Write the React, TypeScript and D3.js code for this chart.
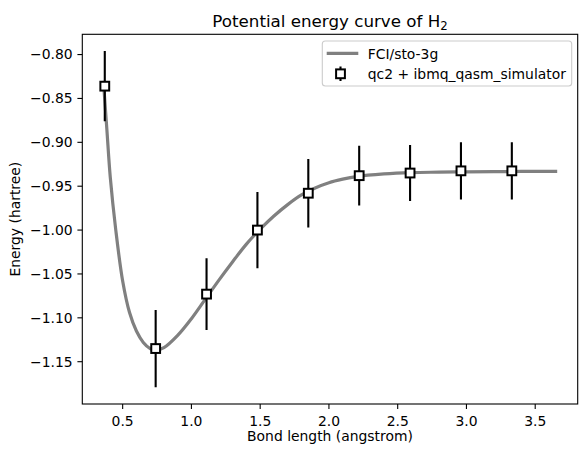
import React from "react";
import * as d3 from "d3";

// FCI/sto-3g reference curve
const fciBond = [0.36, 0.385, 0.41, 0.45, 0.5, 0.55, 0.6, 0.65, 0.7, 0.74, 0.8, 0.9, 1.0, 1.1, 1.2, 1.3, 1.4, 1.5, 1.6, 1.7, 1.8, 1.9, 2.0, 2.1, 2.2, 2.4, 2.6, 2.8, 3.0, 3.2, 3.4, 3.66];
const fciEnergy = [-0.83, -0.885, -0.94, -1.0, -1.058, -1.094, -1.115, -1.128, -1.135, -1.137, -1.134, -1.12, -1.101, -1.079, -1.057, -1.036, -1.016, -0.999, -0.984, -0.971, -0.96, -0.952, -0.946, -0.942, -0.939, -0.936, -0.9345, -0.934, -0.9336, -0.9334, -0.9332, -0.9331];

// simulator points with error bars
const qcBond = [0.37, 0.74, 1.11, 1.48, 1.85, 2.22, 2.59, 2.96, 3.33];
const qcEnergy = [-0.836, -1.135, -1.073, -1.0, -0.958, -0.938, -0.935, -0.9325, -0.9325];
const qcError = [0.04, 0.044, 0.041, 0.0435, 0.039, 0.034, 0.032, 0.0326, 0.0326];

const xTicks = [0.5, 1.0, 1.5, 2.0, 2.5, 3.0, 3.5];
const yTicks = [-0.8, -0.85, -0.9, -0.95, -1.0, -1.05, -1.1, -1.15];

const W = 587;
const H = 457;
const left = 82.3;
const right = 577.7;
const top = 34.3;
const bottom = 404;
const font = "DejaVu Sans, sans-serif";

export default function App() {
    const x = d3.scaleLinear().domain([0.2065, 3.809]).range([left, right]);
    const y = d3.scaleLinear().domain([-1.1982, -0.7769]).range([bottom, top]);

    const line = d3
        .line<number>()
        .x((_, i) => x(fciBond[i]))
        .y((d) => y(d))
        .curve(d3.curveCatmullRom.alpha(0.5));

    const fx = d3.format(".1f");
    const fy = d3.format(".2f");
    const ms = 8.8;

    return (
        <svg width={W} height={H} style={{ position: "absolute", left: 0, top: 0, background: "#fff" }} fontFamily={font}>
            <defs>
                <clipPath id="plot">
                    <rect x={left} y={top} width={right - left} height={bottom - top} />
                </clipPath>
            </defs>

            <g clipPath="url(#plot)">
                <path d={line(fciEnergy) || ""} fill="none" stroke="#808080" strokeWidth={3.2} />
                {qcBond.map((b, i) => (
                    <line
                        key={"e" + i}
                        x1={x(b)}
                        x2={x(b)}
                        y1={y(qcEnergy[i] + qcError[i])}
                        y2={y(qcEnergy[i] - qcError[i])}
                        stroke="#000"
                        strokeWidth={2.1}
                    />
                ))}
                {qcBond.map((b, i) => (
                    <rect
                        key={"m" + i}
                        x={x(b) - ms / 2}
                        y={y(qcEnergy[i]) - ms / 2}
                        width={ms}
                        height={ms}
                        fill="#fff"
                        stroke="#000"
                        strokeWidth={2}
                    />
                ))}
            </g>

            {/* axes frame */}
            <rect x={left} y={top} width={right - left} height={bottom - top} fill="none" stroke="#000" strokeWidth={1.1} />

            {xTicks.map((t) => (
                <g key={"x" + t}>
                    <line x1={x(t)} x2={x(t)} y1={bottom} y2={bottom + 4.9} stroke="#000" strokeWidth={1.1} />
                    <text x={x(t)} y={425.5} fontSize={13.9} textAnchor="middle" fill="#000">
                        {fx(t)}
                    </text>
                </g>
            ))}
            {yTicks.map((t) => (
                <g key={"y" + t}>
                    <line x1={left - 4.9} x2={left} y1={y(t)} y2={y(t)} stroke="#000" strokeWidth={1.1} />
                    <text x={72.6} y={y(t)} dy="0.35em" fontSize={13.9} textAnchor="end" fill="#000">
                        {fy(t)}
                    </text>
                </g>
            ))}

            <text x={(left + right) / 2} y={441} fontSize={13.9} textAnchor="middle">
                Bond length (angstrom)
            </text>
            <text transform={`translate(20,${(top + bottom) / 2}) rotate(-90)`} fontSize={13.9} textAnchor="middle">
                Energy (hartree)
            </text>

            <text x={(left + right) / 2} y={26.7} fontSize={16.7} textAnchor="middle">
                Potential energy curve of H
                <tspan fontSize={11.7} dy={3}>2</tspan>
            </text>

            {/* legend */}
            <rect x={322.3} y={41} width={249.4} height={45} rx={3} fill="#fff" fillOpacity={0.8} stroke="#cccccc" strokeWidth={1.1} />
            <line x1={326.7} x2={358.3} y1={53.3} y2={53.3} stroke="#808080" strokeWidth={3.2} />
            <text x={367.7} y={58.5} fontSize={13.9}>FCI/sto-3g</text>
            <line x1={340.5} x2={340.5} y1={66.5} y2={81} stroke="#000" strokeWidth={2.1} />
            <rect x={340.5 - ms / 2} y={73.8 - ms / 2} width={ms} height={ms} fill="#fff" stroke="#000" strokeWidth={2} />
            <text x={367.7} y={78.5} fontSize={13.9}>qc2 + ibmq_qasm_simulator</text>
        </svg>
    );
}
